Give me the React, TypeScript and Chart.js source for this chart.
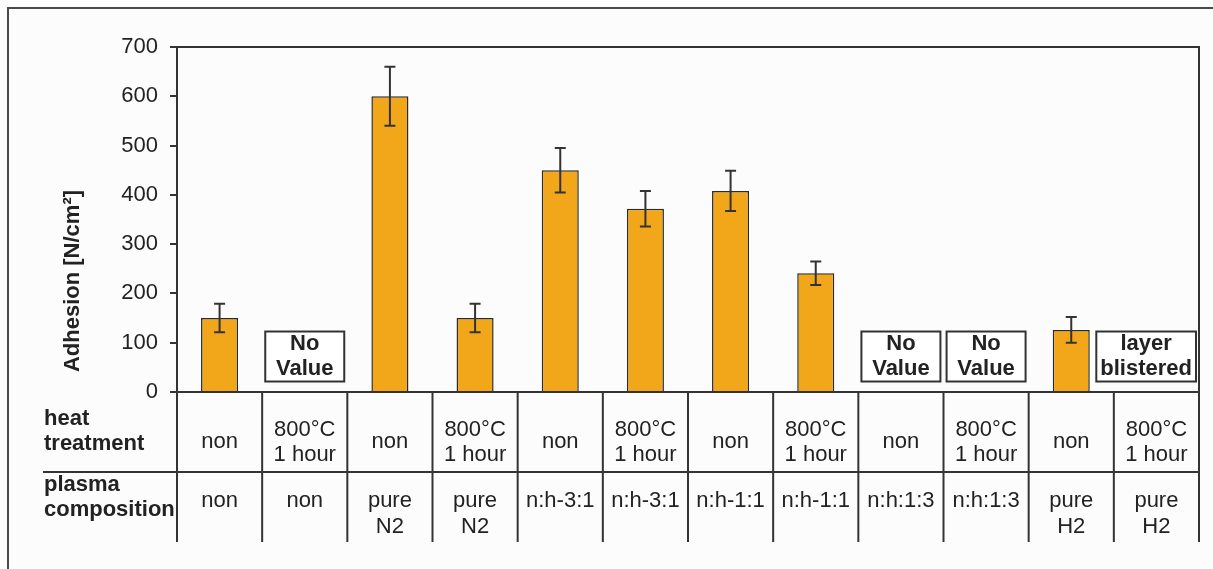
import React, { useEffect, useRef } from "react";
import { Chart, registerables } from "chart.js";

Chart.register(...registerables);

// Sample conditions (one column each)
const heatTreatment = [
  "non", "800°C\n1 hour", "non", "800°C\n1 hour", "non", "800°C\n1 hour",
  "non", "800°C\n1 hour", "non", "800°C\n1 hour", "non", "800°C\n1 hour",
];
const plasmaComposition = [
  "non", "non", "pure\nN2", "pure\nN2", "n:h-3:1", "n:h-3:1",
  "n:h-1:1", "n:h-1:1", "n:h:1:3", "n:h:1:3", "pure\nH2", "pure\nH2",
];

// Measured adhesion [N/cm²] and its spread; null where nothing was measured
const adhesion = [150, null, 600, 150, 450, 372, 408, 241, null, null, 126, null];
const adhesionError = [29, null, 60, 29, 45, 36, 41, 24, null, null, 26, null];

// Remarks printed in place of a missing bar
const remarks = ["", "No\nValue", "", "", "", "", "", "", "No\nValue", "No\nValue", "", "layer\nblistered"];

const yTicks = [0, 100, 200, 300, 400, 500, 600, 700];
const yTitle = "Adhesion [N/cm²]";
const rowTitles = ["heat\ntreatment", "plasma\ncomposition"];

const FONT = '"Liberation Sans", Arial, Helvetica, sans-serif';
const INK = "#222222";
const LINE = "#333333";

const overlayPlugin = {
  id: "overlay",
  beforeDraw(chart: any) {
    const { ctx, width, height } = chart;
    ctx.save();
    ctx.fillStyle = "#fcfcfc";
    ctx.fillRect(0, 0, width, height);
    // outer frame (top and left edges)
    ctx.strokeStyle = "#4a4a4a";
    ctx.lineWidth = 2;
    ctx.beginPath();
    ctx.moveTo(width, 8);
    ctx.lineTo(8, 8);
    ctx.lineTo(8, height);
    ctx.stroke();
    ctx.restore();
  },
  afterDatasetsDraw(chart: any) {
    const { ctx, chartArea } = chart;
    const { left, right, top, bottom } = chartArea;
    const xs = chart.scales.x;
    const ys = chart.scales.y;
    const meta = chart.getDatasetMeta(0);
    const colW = (right - left) / heatTreatment.length;

    ctx.save();

    // error bars
    ctx.strokeStyle = LINE;
    ctx.lineWidth = 2;
    adhesion.forEach((v, i) => {
      const e = adhesionError[i];
      if (v == null || e == null) return;
      const x = meta.data[i].x;
      const y1 = ys.getPixelForValue(v + e);
      const y2 = ys.getPixelForValue(v - e);
      ctx.beginPath();
      ctx.moveTo(x, y1);
      ctx.lineTo(x, y2);
      ctx.moveTo(x - 5.5, y1);
      ctx.lineTo(x + 5.5, y1);
      ctx.moveTo(x - 5.5, y2);
      ctx.lineTo(x + 5.5, y2);
      ctx.stroke();
    });

    // remark boxes
    ctx.font = `bold 22px ${FONT}`;
    ctx.textAlign = "center";
    ctx.textBaseline = "middle";
    remarks.forEach((r, i) => {
      if (!r) return;
      const lines = r.split("\n");
      const cy = ys.getPixelForValue(72);
      const tw = Math.max(...lines.map((l) => ctx.measureText(l).width));
      const w = Math.max(79, tw + 8);
      const h = 50;
      // keep the box inside the plot frame
      const cx = Math.min(xs.getPixelForValue(i), right - 3 - w / 2);
      ctx.fillStyle = "#ffffff";
      ctx.fillRect(cx - w / 2, cy - h / 2, w, h);
      ctx.strokeStyle = LINE;
      ctx.lineWidth = 2;
      ctx.strokeRect(cx - w / 2, cy - h / 2, w, h);
      ctx.fillStyle = INK;
      lines.forEach((l, k) => {
        ctx.fillText(l, cx, cy + (k - (lines.length - 1) / 2) * 25);
      });
    });

    // plot frame
    ctx.strokeStyle = LINE;
    ctx.lineWidth = 2;
    ctx.strokeRect(left, top, right - left, bottom - top);

    // condition table below the plot
    const rowSplit = bottom + 80;
    const tableEnd = bottom + 150;
    ctx.beginPath();
    for (let i = 0; i <= heatTreatment.length; i++) {
      const x = left + i * colW;
      ctx.moveTo(x, bottom);
      ctx.lineTo(x, tableEnd);
    }
    ctx.moveTo(43, rowSplit);
    ctx.lineTo(right, rowSplit);
    ctx.stroke();

    ctx.fillStyle = INK;
    ctx.font = `22px ${FONT}`;
    ctx.textAlign = "center";
    heatTreatment.forEach((t, i) => {
      const cx = xs.getPixelForValue(i);
      const lines = t.split("\n");
      lines.forEach((l, k) => {
        ctx.fillText(l, cx, bottom + 50 + (k - (lines.length - 1) / 2) * 25);
      });
    });
    plasmaComposition.forEach((t, i) => {
      const cx = xs.getPixelForValue(i);
      t.split("\n").forEach((l, k) => {
        ctx.fillText(l, cx, bottom + 109 + k * 26);
      });
    });

    // row headings
    ctx.font = `bold 22px ${FONT}`;
    ctx.textAlign = "left";
    const rowTop = [bottom + 27, bottom + 93];
    rowTitles.forEach((t, r) => {
      t.split("\n").forEach((l, k) => {
        ctx.fillText(l, 44, rowTop[r] + k * 25);
      });
    });

    // y-axis title
    ctx.save();
    ctx.translate(73, 281);
    ctx.rotate(-Math.PI / 2);
    ctx.font = `bold 22px ${FONT}`;
    ctx.textAlign = "center";
    ctx.fillText(yTitle, 0, 0);
    ctx.restore();

    ctx.restore();
  },
};

export default function App() {
  const canvasRef = useRef<HTMLCanvasElement>(null);

  useEffect(() => {
    const canvas = canvasRef.current;
    if (!canvas) return;
    const labels = heatTreatment.map((h, i) => `${h.replace("\n", " ")} | ${plasmaComposition[i].replace("\n", " ")}`);
    const chart = new Chart(canvas, {
      type: "bar",
      data: {
        labels,
        datasets: [
          {
            data: adhesion as any,
            backgroundColor: "#F2A71B",
            borderColor: "#2a2a2a",
            borderWidth: 1.5,
            barPercentage: 0.435,
            categoryPercentage: 1,
          },
        ],
      },
      options: {
        responsive: false,
        animation: false,
        devicePixelRatio: 1,
        layout: { padding: { left: 0, right: 14, top: 47, bottom: 0 } },
        plugins: {
          legend: { display: false },
          tooltip: { enabled: false },
          title: { display: false },
        },
        scales: {
          x: {
            type: "category",
            offset: true,
            grid: { display: false },
            border: { display: false },
            ticks: { display: false },
            afterFit: (scale: any) => {
              scale.height = 177;
            },
          },
          y: {
            min: 0,
            max: 700,
            afterBuildTicks: (scale: any) => {
              scale.ticks = yTicks.map((v) => ({ value: v }));
            },
            grid: {
              drawOnChartArea: false,
              drawTicks: true,
              tickLength: 7,
              color: LINE,
              lineWidth: 2,
            },
            border: { display: false },
            ticks: {
              padding: 12,
              color: INK,
              font: { family: FONT, size: 22 },
            },
            afterFit: (scale: any) => {
              scale.width = 177;
            },
          },
        },
      },
      plugins: [overlayPlugin],
    });
    return () => chart.destroy();
  }, []);

  return (
    <div style={{ position: "fixed", left: 0, top: 0, width: 1213, height: 569 }}>
      <canvas ref={canvasRef} width={1213} height={569} style={{ display: "block" }} />
    </div>
  );
}
